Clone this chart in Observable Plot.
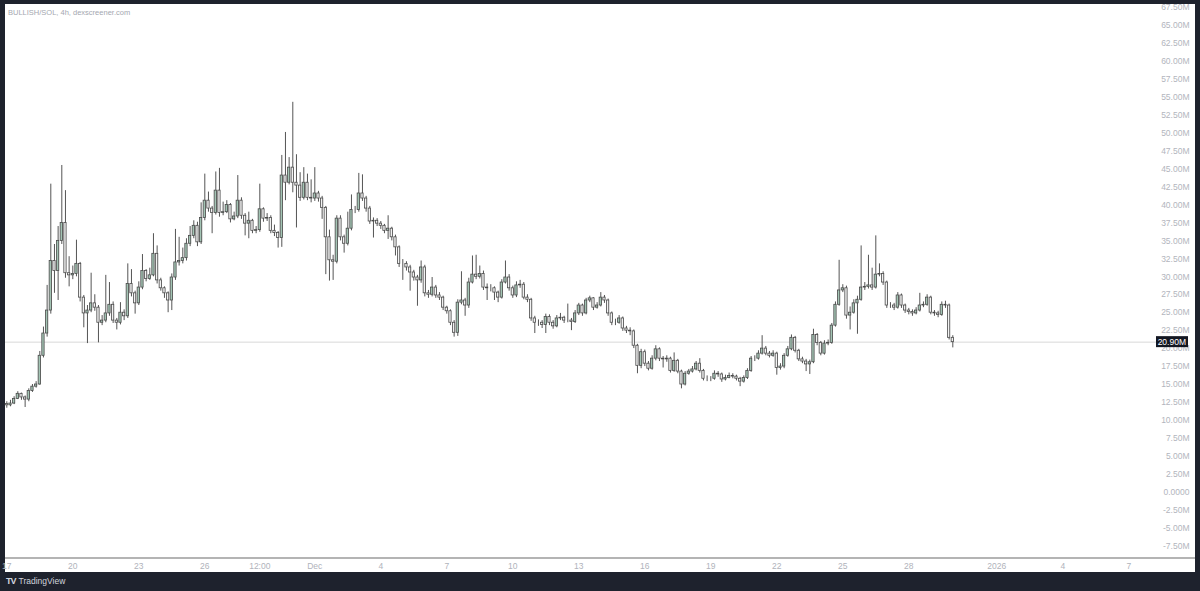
<!DOCTYPE html>
<html><head><meta charset="utf-8">
<script src="https://cdn.jsdelivr.net/npm/d3@7"></script>
<script src="https://cdn.jsdelivr.net/npm/@observablehq/plot@0.6"></script>
<style>
html,body{margin:0;padding:0;background:#1e222d;width:1200px;height:591px;overflow:hidden;font-family:"Liberation Sans",Arial,sans-serif;}
#panel{position:absolute;left:5px;top:4px;width:1190px;height:568px;background:#fff;}
#chart{position:absolute;left:0;top:0;}
#title{position:absolute;left:3px;top:4px;font-size:7.5px;color:#a4a7b0;white-space:nowrap;}
#axisline{position:absolute;left:0;top:553px;width:1190px;height:1.5px;background:#b4b4b4;}
#footer{position:absolute;left:6px;top:576px;color:#d1d4dc;font-size:8.5px;white-space:nowrap;}
#footer b{font-size:9px;letter-spacing:-1px;margin-right:3px;}
</style></head><body>
<div id="panel"><div id="chart"></div><div id="axisline"></div><div id="title">BULLISH/SOL, 4h, dexscreener.com</div></div>
<div id="footer"><b>TV</b>TradingView</div>
<script>
// 4h candles, values in millions
const firstTime = "2025-11-17T00:00:00Z";
const barHours = 4;
const firstOpen = 12.3;
const closes = [
12.1,12.35,13.0,13.7,13.2,12.9,14.1,14.7,15.0,19.0,
22.1,25.3,32.2,30.8,35.0,37.5,30.5,30.2,30.4,31.8,
27.1,24.9,25.3,26.3,25.7,23.6,23.9,24.9,26.1,23.9,
23.6,25.0,24.5,29.0,27.7,26.3,28.5,30.8,29.7,30.2,
33.2,29.5,28.4,27.7,26.7,29.9,32.0,32.2,32.6,34.6,
35.7,37.1,34.8,38.2,40.6,39.5,38.9,42.0,38.9,39.0,
40.0,38.0,38.4,40.6,38.5,37.4,37.8,36.4,36.5,39.4,
38.1,38.2,36.4,36.1,35.4,44.1,43.1,45.2,43.1,42.7,
41.0,43.1,41.0,40.9,41.6,40.9,39.6,35.5,32.3,32.1,
38.1,35.5,34.6,36.7,39.3,39.3,41.6,40.9,39.5,37.7,
37.8,37.4,37.1,36.4,36.7,35.5,34.1,31.8,31.8,31.3,
30.6,29.9,29.5,31.3,27.7,27.5,28.5,27.4,27.1,25.7,
25.2,23.6,22.2,26.4,26.7,26.0,29.2,30.3,30.0,30.4,
28.5,28.4,28.4,27.8,27.1,29.2,29.9,28.4,27.4,28.8,
28.9,27.1,26.8,24.2,23.6,23.6,23.3,24.4,23.6,23.1,
24.2,24.3,23.9,23.9,23.7,24.9,26.0,24.9,26.7,27.0,
25.7,26.0,27.1,26.7,24.9,23.6,23.6,24.2,22.8,22.5,
22.4,20.4,17.6,19.5,17.9,17.2,18.6,19.9,18.6,18.5,
18.6,16.9,18.3,16.8,15.0,16.5,16.8,17.1,17.9,16.9,
15.8,15.8,15.8,16.5,16.4,15.7,15.9,16.2,16.1,15.8,
15.4,15.9,16.9,18.6,18.6,19.3,20.0,19.3,19.0,19.3,
17.3,17.5,19.0,19.9,21.5,19.7,18.5,18.2,17.8,18.1,
21.9,20.8,19.3,20.7,20.8,23.2,26.1,28.1,28.4,24.6,
25.0,26.3,26.8,28.5,28.6,28.8,28.5,30.3,30.4,29.2,
26.0,26.0,25.7,27.4,26.0,25.3,25.1,24.9,25.3,26.0,
26.1,27.1,25.0,24.9,24.7,26.1,26.0,21.5,20.9];
const highs = [
12.6,12.8,13.3,14.0,13.8,13.4,14.4,15.0,15.4,19.6,
23.0,28.8,42.9,34.5,37.0,45.5,42.0,32.8,31.5,35.1,
32.0,27.4,26.0,30.5,27.5,26.0,24.6,30.2,29.2,26.5,
24.2,26.4,25.4,31.8,31.0,28.0,29.3,33.1,31.0,31.2,
36.0,34.3,29.8,28.6,27.9,30.4,36.6,35.5,34.0,35.3,
37.0,37.8,37.6,40.3,44.3,41.8,39.8,44.6,45.1,40.4,
40.6,40.2,39.0,44.1,41.0,38.8,39.0,38.0,37.0,42.9,
39.6,38.8,38.5,37.2,36.3,46.9,50.1,46.6,54.3,47.0,
44.5,45.2,44.3,43.5,45.2,41.9,41.2,39.8,36.5,33.0,
38.5,38.5,35.8,39.0,41.4,39.8,44.4,44.2,41.2,39.8,
38.2,38.1,37.7,37.3,38.5,36.9,35.8,34.3,32.4,32.1,
31.6,30.9,30.2,32.2,31.6,28.1,29.9,28.8,27.8,27.3,
25.9,25.4,23.9,26.8,30.7,27.0,29.8,32.9,33.0,31.5,
30.8,29.0,28.9,28.6,28.0,29.6,32.2,30.3,28.7,29.3,
29.5,29.2,27.5,27.0,24.5,24.0,23.9,24.8,24.7,23.9,
24.6,24.9,24.5,26.2,24.2,25.3,26.3,26.2,27.0,27.3,
27.1,26.4,27.8,27.4,26.9,25.1,24.1,24.6,24.4,23.1,
22.9,22.6,20.6,19.9,19.8,18.2,19.0,20.4,20.1,18.9,
19.0,18.8,19.4,18.5,17.0,16.8,17.1,17.5,18.2,18.6,
17.1,16.2,16.1,16.9,16.8,16.6,16.3,16.6,16.5,16.3,
16.0,16.2,17.2,18.9,19.0,19.7,21.8,20.3,19.6,19.7,
19.5,17.9,19.3,20.3,21.9,21.7,19.9,18.8,18.5,18.4,
22.7,22.1,21.0,21.1,21.2,23.5,26.5,32.3,28.9,28.7,
25.8,26.8,27.3,34.3,29.2,33.0,31.2,35.7,31.8,30.7,
29.4,26.4,26.3,27.8,27.6,26.2,25.6,25.4,25.7,27.7,
26.5,27.5,27.3,25.3,25.2,26.5,26.6,26.2,21.8];
const lows = [
11.7,11.9,12.2,12.9,12.8,11.8,12.6,13.9,14.5,14.9,
18.7,21.6,24.8,27.7,26.7,34.5,29.8,28.6,29.6,30.0,
26.5,22.9,20.7,25.0,25.2,20.8,23.2,23.6,24.5,23.5,
22.6,23.3,23.9,24.2,27.2,24.8,26.0,28.2,29.3,29.5,
30.0,29.0,28.0,27.0,25.0,25.3,29.5,31.5,31.8,32.2,
34.2,35.3,34.2,34.5,37.8,39.0,36.0,38.6,38.3,38.5,
38.8,37.5,37.8,38.1,38.0,35.7,35.3,36.0,36.0,36.2,
37.6,37.7,36.0,35.6,34.0,34.1,40.6,42.8,41.7,36.8,
40.5,40.7,40.6,40.3,40.5,40.4,38.0,30.3,29.4,29.5,
31.8,35.0,33.3,34.3,36.4,38.8,39.0,40.5,39.0,37.3,
35.4,37.0,36.6,36.0,35.2,35.0,32.9,31.3,29.5,30.8,
28.0,29.4,25.9,29.1,27.2,27.0,27.2,27.0,26.7,25.3,
24.8,23.2,21.6,21.7,26.1,24.5,25.6,29.0,29.6,29.7,
28.1,26.7,27.9,26.7,26.4,26.9,29.0,28.0,27.0,27.1,
28.4,26.8,26.4,23.8,22.1,23.1,22.8,22.1,23.2,22.7,
22.9,23.9,23.5,23.6,22.5,23.5,24.6,24.5,24.7,26.4,
25.3,25.5,25.8,26.3,24.5,23.2,23.2,23.4,22.4,22.1,
21.8,20.0,16.5,17.2,17.5,16.9,17.0,18.3,18.2,17.3,
18.1,16.6,16.7,16.5,14.4,14.8,16.3,16.6,16.9,16.6,
15.5,15.4,15.4,15.6,16.0,15.3,15.5,15.8,15.8,15.5,
14.7,15.2,15.7,16.7,18.2,18.4,19.1,19.0,18.7,18.8,
16.3,17.0,17.2,18.8,19.7,19.4,18.2,17.9,16.8,16.4,
17.9,20.4,19.0,19.1,20.4,20.6,23.0,25.9,27.8,24.1,
22.6,24.8,22.0,26.6,28.1,28.3,28.1,28.3,30.0,28.8,
25.6,25.6,25.3,25.5,25.6,24.9,24.7,24.5,24.7,25.1,
25.7,25.9,24.7,24.5,24.3,24.5,25.6,21.2,20.1];

const xTickDates = ["2025-11-17T00:00:00Z","2025-11-20T00:00:00Z","2025-11-23T00:00:00Z","2025-11-26T00:00:00Z","2025-11-28T12:00:00Z","2025-12-01T00:00:00Z","2025-12-04T00:00:00Z","2025-12-07T00:00:00Z","2025-12-10T00:00:00Z","2025-12-13T00:00:00Z","2025-12-16T00:00:00Z","2025-12-19T00:00:00Z","2025-12-22T00:00:00Z","2025-12-25T00:00:00Z","2025-12-28T00:00:00Z","2026-01-01T00:00:00Z","2026-01-04T00:00:00Z","2026-01-07T00:00:00Z"];
const xTickLabels = ["17","20","23","26","12:00","Dec","4","7","10","13","16","19","22","25","28","2026","4","7"];
const yTicks = [-7.5,-5,-2.5,0,2.5,5,7.5,10,12.5,15,17.5,20,22.5,25,27.5,30,32.5,35,37.5,40,42.5,45,47.5,50,52.5,55,57.5,60,62.5,65,67.5];
const yTickLabels = ["-7.50M","-5.00M","-2.50M","0.0000","2.50M","5.00M","7.50M","10.00M","12.50M","15.00M","17.50M","20.00M","22.50M","25.00M","27.50M","30.00M","32.50M","35.00M","37.50M","40.00M","42.50M","45.00M","47.50M","50.00M","52.50M","55.00M","57.50M","60.00M","62.50M","65.00M","67.50M"];

const t0 = new Date(firstTime).getTime();
const candles = closes.map((c, i) => ({
  t: new Date(t0 + i * barHours * 3600e3),
  open: i === 0 ? firstOpen : closes[i - 1],
  close: c, high: highs[i], low: lows[i]
}));
const last = candles[candles.length - 1];
const lastLabel = last.close.toFixed(2) + "M";
const xLabelMap = new Map(xTickDates.map((d, i) => [new Date(d).getTime(), xTickLabels[i]]));
const yLabelMap = new Map(yTicks.map((v, i) => [v, yTickLabels[i]]));
const half = 75 * 60e3;

function priceTag(index, scales, values, dimensions) {
  const y = scales.y(last.close);
  const x0 = dimensions.width - dimensions.marginRight - 2;
  const g = d3.create("svg:g");
  g.append("rect").attr("x", x0).attr("y", y - 5.5).attr("width", 32).attr("height", 11).attr("fill", "#131722");
  g.append("text").attr("x", x0 + 30).attr("y", y).attr("dy", "0.35em").attr("text-anchor", "end")
    .attr("fill", "#ffffff").attr("font-size", "8.5px").text(lastLabel);
  return g.node();
}

const chart = Plot.plot({
  width: 1190, height: 568,
  marginLeft: 0, marginRight: 37, marginTop: 0, marginBottom: 15,
  style: {background: "transparent", fontFamily: "Liberation Sans, Arial, sans-serif", fontSize: "8.5px", color: "#b0b3bb", overflow: "visible"},
  x: {type: "utc", domain: [new Date("2025-11-16T22:35:00Z"), new Date("2026-01-08T08:24:00Z")]},
  y: {domain: [-9.09, 67.92]},
  marks: [
    Plot.axisX({ticks: xTickDates.map(d => new Date(d)), tickFormat: d => xLabelMap.get(+d), tickSize: 0, tickPadding: 5, fill: "#b0b3bb", label: null}),
    Plot.axisY({anchor: "right", ticks: yTicks, tickFormat: d => yLabelMap.get(d), tickSize: 0, tickPadding: 0, textAnchor: "end", dx: 31, fill: "#b2b5bd", label: null}),
    Plot.ruleY([last.close], {stroke: "#d9d9d9", strokeWidth: 1}),
    Plot.ruleX(candles, {x: "t", y1: "low", y2: "high", stroke: "#555555", strokeWidth: 1}),
    Plot.rect(candles, {
      x1: d => new Date(+d.t - half), x2: d => new Date(+d.t + half),
      y1: "open", y2: "close",
      fill: d => d.close >= d.open ? "#a3c4b4" : "#f2f2f2",
      stroke: "#4a4a4a", strokeWidth: 0.8
    }),
    priceTag
  ]
});
document.getElementById("chart").appendChild(chart);
</script>
</body></html>
